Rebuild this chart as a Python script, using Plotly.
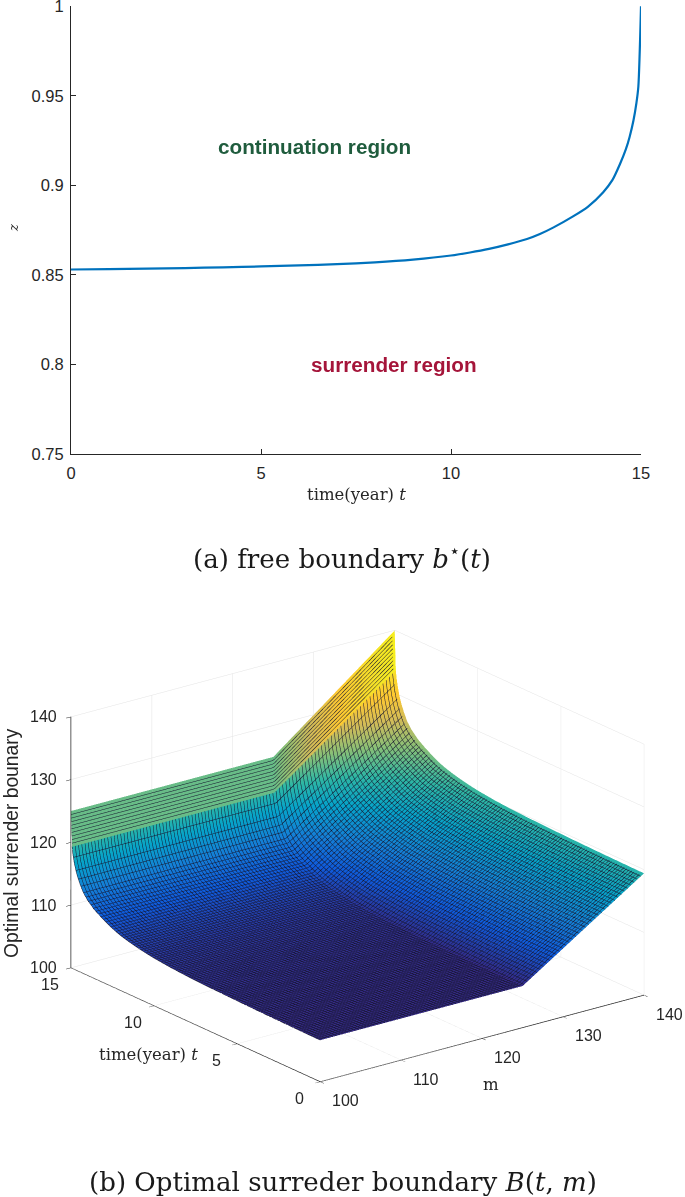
import plotly.graph_objects as go

W, H = 685, 1197
# curve
t_values = [0, 1, 2, 3, 4, 5, 6, 7, 8, 9, 10, 10.5, 11, 11.5, 12, 12.34, 12.7, 13.2, 13.6, 14, 14.25, 14.45, 14.6, 14.7, 14.8, 14.88, 14.93, 15]
b_values = [0.853, 0.8532, 0.8535, 0.8538, 0.8542, 0.8547, 0.8553, 0.856, 0.857, 0.8585, 0.8608, 0.8625, 0.8645, 0.867, 0.87, 0.8728, 0.8765, 0.8825, 0.888, 0.896, 0.903, 0.912, 0.92, 0.927, 0.936, 0.946, 0.955, 1.0]
x_ticks = [0, 5, 10, 15]
y_tick_start, y_tick_step = 0.75, 0.05
# panel (b): B(t, m) = b(t) * max(m, 125), read from surface corners
m_values = [100, 125, 140]
m_floor = [125, 125, 140]
surface_z = [[b * f for f in m_floor] for b in b_values[:-1]]
strip_z = [[b * f for f in m_floor] for b in b_values[-2:]]
strip_mean = (b_values[-2] + b_values[-1]) / 2
strip_colour = [[strip_mean * f for f in m_floor] for _ in b_values[-2:]]
m_ticks = [100, 110, 120, 130, 140]
t_ticks = [0, 5, 10, 15]
z_ticks = [100, 110, 120, 130, 140]
parula = [[0, "#352a87"], [0.1, "#0f5cdd"], [0.2, "#1481d6"], [0.3, "#06a4ca"], [0.4, "#2eb7a4"],
          [0.5, "#87bf77"], [0.6, "#d1bb59"], [0.7, "#fec832"], [0.85, "#f5e626"], [1, "#f9fb0e"]]

SERIF = "DejaVu Serif"
SANS = "Liberation Sans"
INK = "#262626"
MESH = "#15152e"

def fx(px):
    return px / W

def fy(px):
    return 1 - px / H

fig = go.Figure()
fig.add_trace(go.Scatter(x=t_values, y=b_values, mode="lines", line=dict(color="#0072bd", width=2.2, shape="spline", smoothing=0.7),
                         showlegend=False, hoverinfo="skip"))
shared = dict(x=m_values, colorscale=parula, cmin=106.6, cmax=140, showscale=False, hoverinfo="skip",
              lighting=dict(ambient=1, diffuse=0, specular=0, fresnel=0), scene="scene")
fig.add_trace(go.Surface(y=t_values[:-1], z=surface_z, surfacecolor=surface_z,
                         contours=dict(
                             x=dict(show=True, start=100, end=140, size=0.4, color=MESH, width=1, highlight=False),
                             y=dict(show=True, start=0, end=15, size=0.15, color=MESH, width=1, highlight=False),
                             z=dict(highlight=False)), **shared))
fig.add_trace(go.Surface(y=t_values[-2:], z=strip_z, surfacecolor=strip_colour,
                         contours=dict(
                             x=dict(show=False, highlight=False),
                             y=dict(show=True, start=14.93, end=15, size=0.007, color=MESH, width=1, highlight=False),
                             z=dict(highlight=False)), **shared))

def axis3d(**kw):
    return dict(title=dict(text=""), showbackground=False, gridcolor="#e3e3e3", gridwidth=1, showline=True,
                linecolor=INK, linewidth=1.5, ticks="outside", ticklen=6, tickcolor=INK, zeroline=False,
                showticklabels=False, showspikes=False, **kw)

def tick_note(x, y, z, text, dx, dy):
    return dict(x=x, y=y, z=z, text=text, showarrow=False, xshift=dx, yshift=dy, xanchor="center", yanchor="middle",
                font=dict(family=SANS, size=16, color=INK))

scene_notes = ([tick_note(m, 0, 100, str(m), 25, -19) for m in m_ticks]
               + [tick_note(100, t, 100, str(t), -21, -17) for t in t_ticks]
               + [tick_note(100, 15, z, str(z), -27, 0) for z in z_ticks])

fig.update_layout(
    width=W, height=H, margin=dict(l=0, r=0, t=0, b=0, autoexpand=False), paper_bgcolor="white", plot_bgcolor="white",
    showlegend=False,
    xaxis=dict(domain=[fx(71), fx(641)], range=[0, 15], tickvals=x_ticks, ticks="inside", ticklen=5, tickcolor=INK,
               automargin=False, showgrid=False, zeroline=False, showline=True, linecolor=INK, linewidth=1,
               ticklabelstandoff=4, ticklabeloverflow="allow", tickfont=dict(family=SANS, size=16.5, color=INK)),
    yaxis=dict(domain=[fy(454), fy(6)], range=[0.75, 1.0001], tickmode="linear", tick0=y_tick_start, dtick=y_tick_step,
               automargin=False, ticks="inside", ticklen=5, tickcolor=INK, showgrid=False, zeroline=False, showline=True,
               linecolor=INK, linewidth=1, ticklabelstandoff=3, ticklabeloverflow="allow",
               tickfont=dict(family=SANS, size=16.5, color=INK)),
    scene=dict(
        domain=dict(x=[fx(50), fx(665)], y=[fy(1126), fy(586)]),
        aspectmode="manual", aspectratio=dict(x=1.51, y=1.52, z=0.992),
        camera=dict(projection=dict(type="orthographic"), eye=dict(x=-1.14, y=-1.49, z=0.70),
                    center=dict(x=0, y=0, z=0), up=dict(x=0, y=0, z=1)),
        xaxis=axis3d(range=[100, 140], tickvals=m_ticks),
        yaxis=axis3d(range=[0, 15], tickvals=t_ticks),
        zaxis=axis3d(range=[100, 140], tickvals=z_ticks),
        annotations=scene_notes,
    ),
)

def note(text, x, y, size, color="#1a1a1a", family=SERIF, angle=0):
    fig.add_annotation(text=text, x=fx(x), y=fy(y), xref="paper", yref="paper", showarrow=False,
                       font=dict(family=family, size=size, color=color), textangle=angle, xanchor="center", yanchor="middle")

note("<b>continuation region</b>", 314, 146, 20.7, "#1f5c3d", SANS)
note("<b>surrender region</b>", 394, 364, 20.7, "#a5153a", SANS)
note("<i>z</i>", 13, 228, 13, INK, SERIF, -90)
note("time(year) <i>t</i>", 356, 495, 16.5, INK)
note("(a) free boundary <i>b</i><sup>⋆</sup>(<i>t</i>)", 342, 557, 26.1)
note("(b) Optimal surreder boundary <i>B</i>(<i>t</i>, <i>m</i>)", 343, 1182, 26.1)
note("Optimal surrender bounary", 11, 843, 19.3, INK, SANS, -90)
note("time(year) <i>t</i>", 148, 1054, 16.5, INK)
note("m", 491, 1084, 16.5, INK)

fig.write_html("out.html", config=dict(displayModeBar=False), post_script="document.body.style.margin='0';")
